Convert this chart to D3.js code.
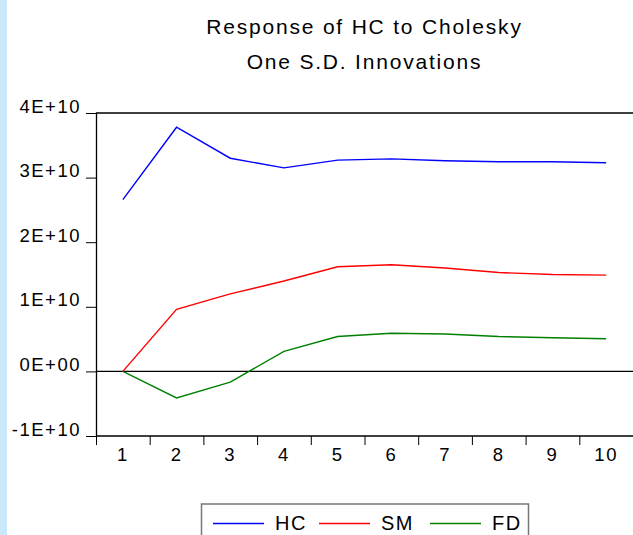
<html>
<meta charset="utf-8">
<style>
body { margin: 0; background: #fff; }
.line { fill: none; stroke-width: 1.4px; }
text { font-family: "Liberation Sans", Arial, sans-serif; fill: #000; letter-spacing: 1.5px; }
</style>
<body>
<script src="https://d3js.org/d3.v7.min.js"></script>
<script>

// data
var periods = [1, 2, 3, 4, 5, 6, 7, 8, 9, 10];
var hc = [2.66e10, 3.78e10, 3.30e10, 3.15e10, 3.27e10, 3.29e10, 3.26e10, 3.245e10, 3.245e10, 3.23e10];
var sm = [0, 0.96e10, 1.20e10, 1.40e10, 1.62e10, 1.65e10, 1.60e10, 1.53e10, 1.50e10, 1.49e10];
var fd = [0, -0.41e10, -0.165e10, 0.31e10, 0.54e10, 0.59e10, 0.58e10, 0.54e10, 0.52e10, 0.505e10];
var seriesNames = ["HC", "SM", "FD"];
var yTicks = [4e10, 3e10, 2e10, 1e10, 0, -1e10];
var yTickLabels = ["4E+10", "3E+10", "2E+10", "1E+10", "0E+00", "-1E+10"];
var titleLines = ["Response of HC to Cholesky", "One S.D. Innovations"];

var W = 633, H = 535;
var plotLeft = 96, plotRight = 633, plotTop = 113, plotBottom = 436;

var svg = d3.select("body").append("svg")
    .attr("width", W)
    .attr("height", H);

// light blue strip on the left edge
svg.append("rect")
    .attr("x", 0).attr("y", 0)
    .attr("width", 7).attr("height", H)
    .attr("fill", "#c9e8f9");

// scales
var x = d3.scaleBand().domain(periods).range([plotLeft, plotRight]);
var y = d3.scaleLinear().domain([-1e10, 4e10]).range([plotBottom, plotTop]);

// title
svg.selectAll(".title")
    .data(titleLines)
  .enter().append("text")
    .attr("class", "title")
    .attr("x", (plotLeft + plotRight) / 2)
    .attr("y", function(d, i) { return 34 + i * 35; })
    .attr("text-anchor", "middle")
    .style("font-size", "21px")
    .style("letter-spacing", "1.8px")
    .text(function(d) { return d; });

// zero line
svg.append("line")
    .attr("x1", plotLeft).attr("x2", plotRight)
    .attr("y1", y(0)).attr("y2", y(0))
    .attr("stroke", "#000").attr("stroke-width", 1.2);

// Y axis
var yAxis = svg.append("g")
    .attr("transform", "translate(" + plotLeft + ",0)")
    .call(d3.axisLeft(y)
        .tickValues(yTicks)
        .tickSize(10)
        .tickPadding(5)
        .tickFormat(function(d, i) { return yTickLabels[i]; }));
yAxis.select(".domain").remove();
yAxis.selectAll("line").attr("stroke", "#000");
yAxis.selectAll("text")
    .attr("dy", "-1px")
    .style("font-size", "18.5px")
    .style("font-family", "'Liberation Sans', Arial, sans-serif");

// X axis labels
var xAxis = svg.append("g")
    .attr("transform", "translate(0," + plotBottom + ")")
    .call(d3.axisBottom(x).tickSize(0).tickPadding(12));
xAxis.select(".domain").remove();
xAxis.selectAll("text")
    .style("font-size", "18.5px")
    .style("font-family", "'Liberation Sans', Arial, sans-serif");

// X ticks at band boundaries
svg.append("g").selectAll("line")
    .data(periods)
  .enter().append("line")
    .attr("x1", function(d) { return x(d) + 0.5; })
    .attr("x2", function(d) { return x(d) + 0.5; })
    .attr("y1", plotBottom)
    .attr("y2", plotBottom + 9)
    .attr("stroke", "#000");

// frame
svg.append("path")
    .attr("d", "M" + plotRight + "," + plotTop + "H" + (plotLeft + 0.5) + "V" + plotBottom + "H" + plotRight)
    .attr("fill", "none")
    .attr("stroke", "#000")
    .attr("stroke-width", 1.3);

// lines
var colors = ["#0000ff", "#ff0000", "#008000"];
var allSeries = [hc, sm, fd];

var valueline = d3.line()
    .x(function(d, i) { return x(periods[i]) + x.bandwidth() / 2; })
    .y(function(d) { return y(d); });

allSeries.forEach(function(s, k) {
  svg.append("path")
      .datum(s)
      .attr("class", "line")
      .style("stroke", colors[k])
      .attr("d", valueline);
});

// legend
var legend = svg.append("g");
legend.append("rect")
    .attr("x", 201.5).attr("y", 504)
    .attr("width", 327).attr("height", 50)
    .attr("fill", "#fff")
    .attr("stroke", "#777")
    .attr("stroke-width", 1.5);

var legendX = [213, 319, 430];
seriesNames.forEach(function(name, k) {
  legend.append("line")
      .attr("x1", legendX[k]).attr("x2", legendX[k] + 51)
      .attr("y1", 523.5).attr("y2", 523.5)
      .attr("stroke", colors[k])
      .attr("stroke-width", 1.5);
  legend.append("text")
      .attr("x", legendX[k] + 62)
      .attr("y", 530)
      .style("font-size", "20px")
      .text(name);
});

</script>
</body>
</html>
